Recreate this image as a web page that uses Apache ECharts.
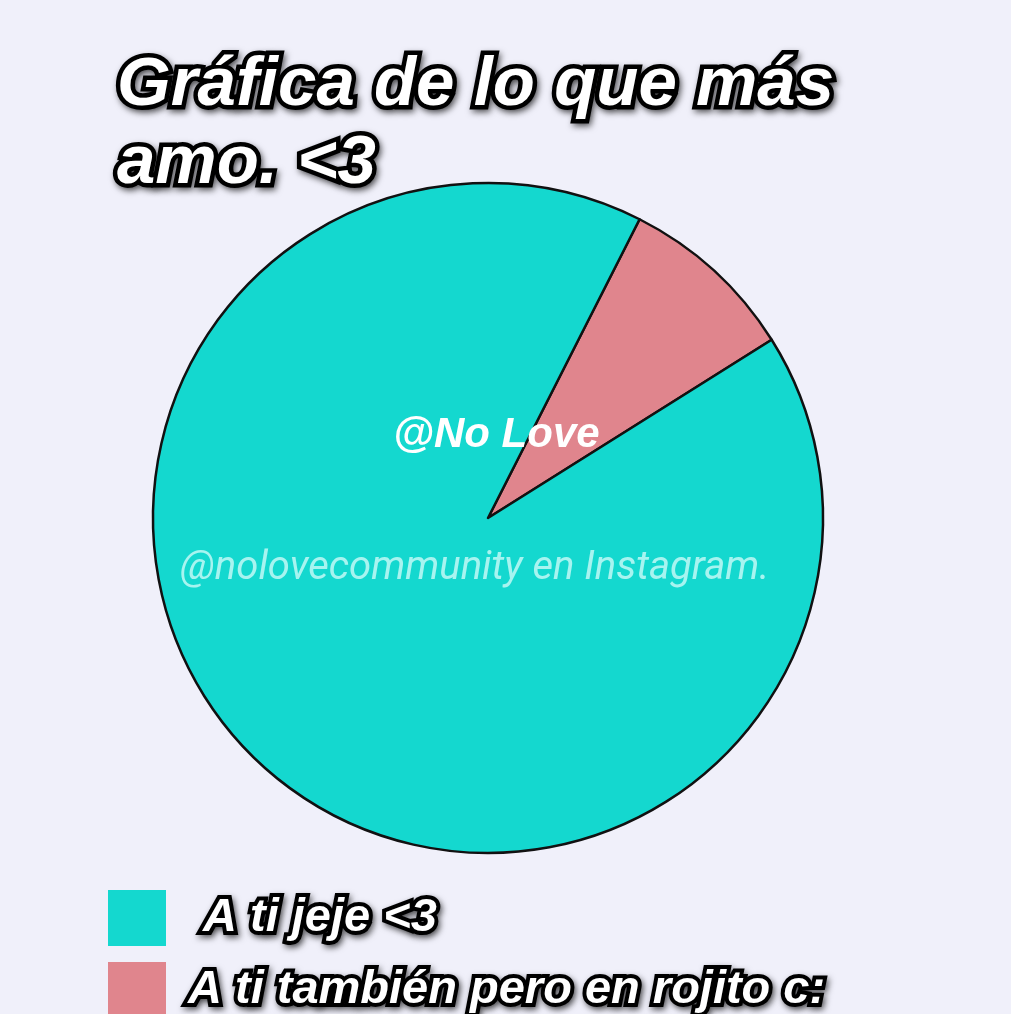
<!DOCTYPE html>
<html>
<head>
<meta charset="utf-8">
<script src="https://cdn.jsdelivr.net/npm/echarts@6/dist/echarts.min.js"></script>
<style>
html,body{margin:0;padding:0;background:#f0f0fa;}
#chart{width:1011px;height:1014px;}
</style>
</head>
<body>
<div id="chart"></div>
<script>
const categories = ['A ti jeje <3', 'A ti también pero en rojito c:'];
const values = [91.4, 8.6];
const colors = ['#14d8cf', '#e0858d'];
const titleText = 'Gráfica de lo que más\namo. <3';

const chart = echarts.init(document.getElementById('chart'), null, {renderer: 'canvas'});

// pink slice first so it starts at the right angle, legend lists teal first
const pieData = [
  {name: categories[1], value: values[1], itemStyle: {color: colors[1]}},
  {name: categories[0], value: values[0], itemStyle: {color: colors[0]}}
];

const outlined = {
  color: '#fff',
  fontFamily: 'Liberation Sans, Arial, sans-serif',
  fontWeight: 'bold',
  fontStyle: 'italic',
  textBorderColor: '#000',
  textShadowColor: 'rgba(0,0,0,0.55)',
  textShadowBlur: 6,
  textShadowOffsetX: 2,
  textShadowOffsetY: 3
};

function legendFor(i, top, pad) {
  return {
    orient: 'vertical',
    left: 103,
    top: top,
    itemWidth: 58,
    itemHeight: 56,
    icon: 'rect',
    data: [categories[i]],
    selectedMode: false,
    itemStyle: {borderWidth: 0},
    textStyle: Object.assign({}, outlined, {fontSize: 47, textBorderWidth: 8, padding: [0, 0, 0, pad]})
  };
}

chart.setOption({
  backgroundColor: '#f0f0fa',
  animation: false,
  title: {
    text: titleText,
    left: 112,
    top: 42,
    textStyle: Object.assign({}, outlined, {fontSize: 69, lineHeight: 78, textBorderWidth: 9})
  },
  legend: [legendFor(0, 885, 32), legendFor(1, 957, 17)],
  graphic: [
    {
      type: 'text', left: 393, top: 414, z: 10,
      style: {
        text: '@No Love', fontSize: 42,
        fontFamily: 'Liberation Sans, Arial, sans-serif', fontWeight: 'bold', fontStyle: 'italic',
        fill: '#fff',
        shadowColor: 'rgba(0,50,50,0.95)', shadowBlur: 2, shadowOffsetX: -2, shadowOffsetY: 3
      }
    },
    {
      type: 'text', left: 180, top: 549, z: 10,
      style: {
        text: '@nolovecommunity en Instagram.', fontSize: 40,
        fontFamily: 'Roboto, sans-serif', fontStyle: 'italic',
        fill: 'rgba(225,255,252,0.72)'
      }
    }
  ],
  series: [{
    type: 'pie',
    center: [488, 518],
    radius: 335,
    startAngle: 63.1,
    clockwise: true,
    label: {show: false},
    labelLine: {show: false},
    itemStyle: {borderColor: '#111', borderWidth: 2.5},
    emphasis: {disabled: true},
    data: pieData
  }]
});
</script>
</body>
</html>
